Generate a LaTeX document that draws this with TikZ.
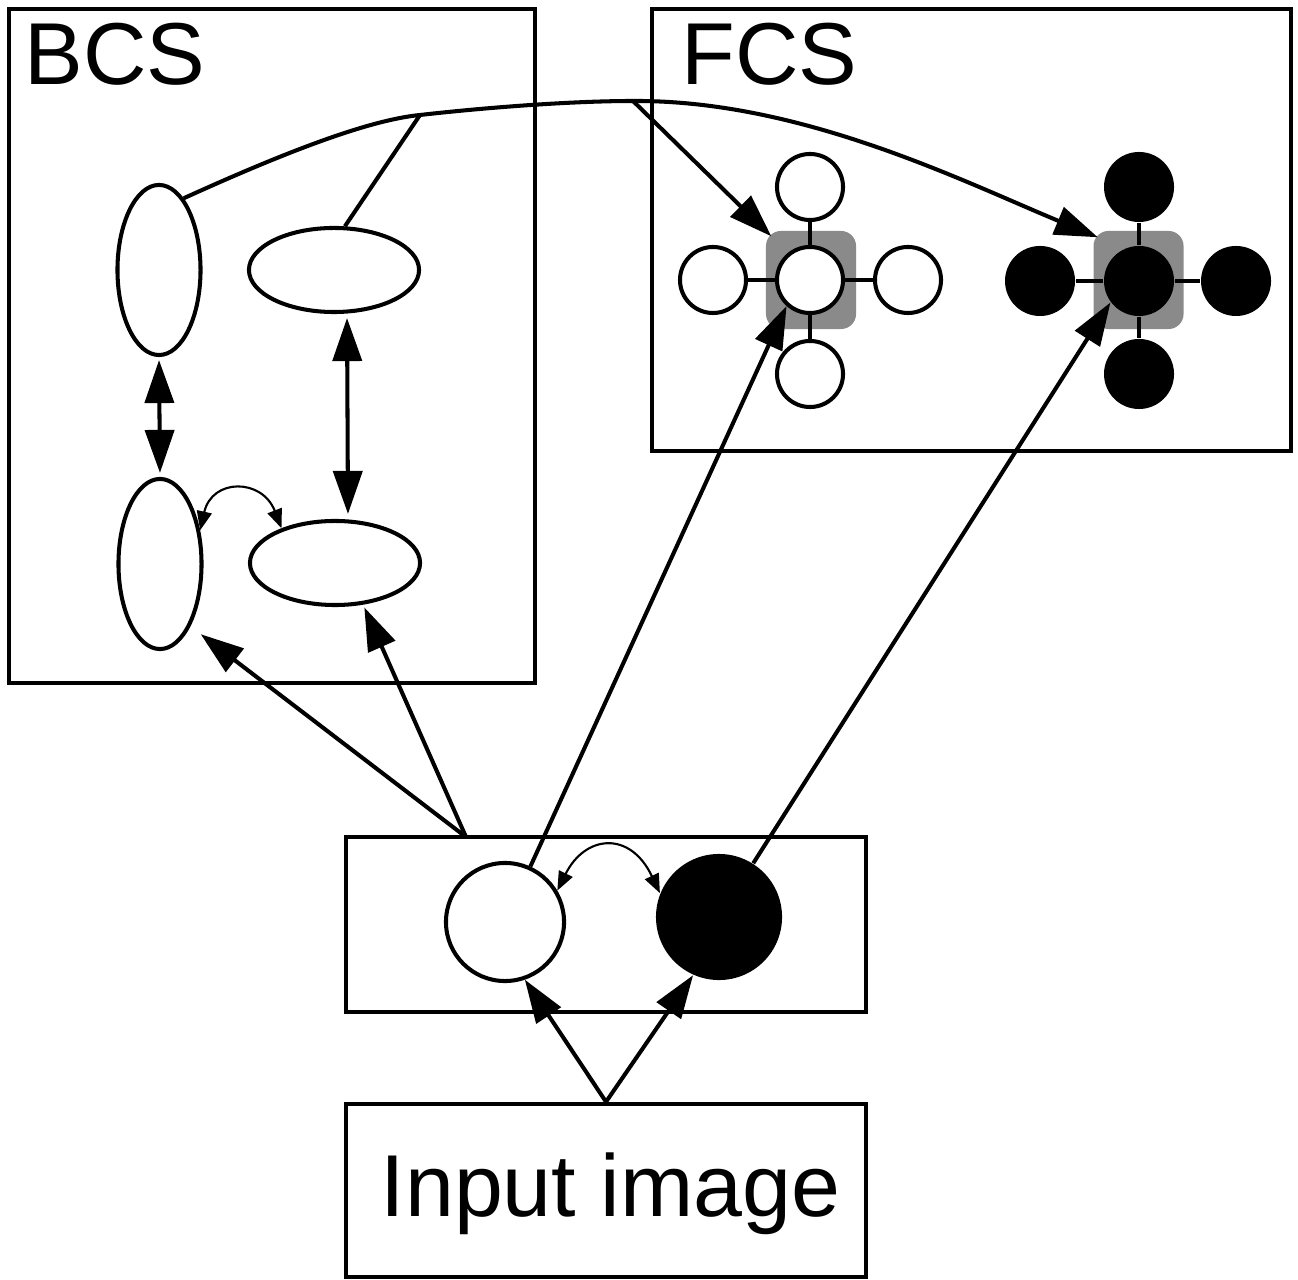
\documentclass[tikz,border=0pt]{standalone}
\usepackage{fontspec}
\setmainfont{Liberation Sans}
\usetikzlibrary{arrows.meta,shapes.geometric}
\definecolor{hilite}{RGB}{138,138,138}
\begin{document}
\begin{tikzpicture}[x=0.01cm,y=-0.01cm,
  panel/.style={draw, rectangle, line width=1.2pt, inner sep=0pt},
  title/.style={inner sep=0pt, font=\fontsize{25}{29}\selectfont},
  cell/.style={draw, ellipse, line width=1.15pt, inner sep=0pt, fill=white},
  unitW/.style={draw, circle, line width=1.15pt, inner sep=0pt, fill=white, minimum size=0.66cm},
  unitB/.style={circle, fill=black, inner sep=0pt, minimum size=0.70cm},
  focus/.style={fill=hilite, rounded corners=0.15cm, inner sep=0pt, minimum width=0.90cm, minimum height=0.98cm},
  link/.style={line width=1.15pt},
  spoke/.style={line width=1pt},
  big/.style={line width=1.15pt, -{Triangle[length=0.43cm,width=0.29cm]}},
  bigboth/.style={line width=1.15pt, {Triangle[length=0.43cm,width=0.29cm]}-{Triangle[length=0.43cm,width=0.29cm]}},
  small/.style={line width=0.6pt, {Triangle[length=0.19cm,width=0.15cm]}-{Triangle[length=0.19cm,width=0.15cm]}}
]
\useasboundingbox (0,0) rectangle (1298,1280);

% panels
\node[panel, minimum width=5.26cm, minimum height=6.74cm] (bcs) at (272,346) {};
\node[panel, minimum width=6.39cm, minimum height=4.42cm] (fcs) at (971.5,230) {};
\node[panel, minimum width=5.20cm, minimum height=1.75cm] (mid) at (606,924.5) {};
\node[panel, minimum width=5.20cm, minimum height=1.73cm] (inp) at (606,1190.5) {};

\node[title, anchor=base west] (bcslabel) at (24,85) {BCS};
\node[title, anchor=base west] (fcslabel) at (681,85) {FCS};
\node[title, anchor=base west] (inplabel) at (380,1216) {Input image};

% BCS cells
\node[cell, minimum width=0.83cm, minimum height=1.70cm] (e1) at (159,270) {};
\node[cell, minimum width=1.70cm, minimum height=0.84cm] (e2) at (334,270) {};
\node[cell, minimum width=0.83cm, minimum height=1.70cm] (e3) at (160,564) {};
\node[cell, minimum width=1.70cm, minimum height=0.84cm] (e4) at (335,563) {};

% FCS units
\node[focus] (gW) at (811,280) {};
\node[focus] (gB) at (1138.5,280) {};

\node[unitW] (wc) at (810,280) {};
\node[unitW] (wt) at (810,187) {};
\node[unitW] (wb) at (810,374) {};
\node[unitW] (wl) at (713,280) {};
\node[unitW] (wr) at (908,280) {};

\node[unitB] (bc) at (1139,281) {};
\node[unitB] (bt) at (1139,187) {};
\node[unitB] (bb) at (1139,374) {};
\node[unitB] (bl) at (1040,281) {};
\node[unitB] (br) at (1236,281) {};

\foreach \s in {wt,wb,wl,wr} \draw[spoke] (wc) -- (\s);
\foreach \s in {bt,bb,bl,br} \draw[spoke] (bc) -- (\s);

% input-stage units
\node[draw, circle, line width=1.15pt, inner sep=0pt, fill=white, minimum size=1.18cm] (wm) at (505,922) {};
\node[circle, fill=black, inner sep=0pt, minimum size=1.26cm] (bm) at (719,917) {};

% long feedback curve
\coordinate (j1) at (420,115);
\coordinate (j2) at (633,101);
\draw[big] (e1.71) .. controls (290,150) and (370,120) .. (j1)
  .. controls (500,106) and (580,101) .. (j2)
  .. controls (800,100) and (960,180) .. ([shift={(5,7)}]gB.north west);
\draw[link] (j1) -- (e2.76);
\draw[big] (j2) -- ([shift={(6,6)}]gW.north west);

% BCS internal arrows
\draw[bigboth, shorten <=0.03cm, shorten >=0.04cm] (e1.south) -- (e3.north);
\draw[bigboth, shorten <=0.04cm, shorten >=0.05cm] ([xshift=0.13cm]e2.south) -- ([xshift=0.13cm]e4.north);
\draw[small] (e3.40) .. controls (212,478) and (262,478) .. (e4.147);

% input stage to BCS
\coordinate (src) at (466,837);
\draw[big, shorten >=0.13cm] (src) -- (e3.-64);
\draw[big, shorten >=0.03cm] (src) -- (e4.-56);

% input stage to FCS
\draw[big] (wm) -- (wc.228);
\draw[big] (bm) -- (bc.217);
\draw[small] (wm.31) .. controls (585,835) and (630,830) .. (bm.158);

% input image to input stage
\draw[bigboth] (wm.-71) -- (inp.north) -- (bm.-114);
\end{tikzpicture}
\end{document}
